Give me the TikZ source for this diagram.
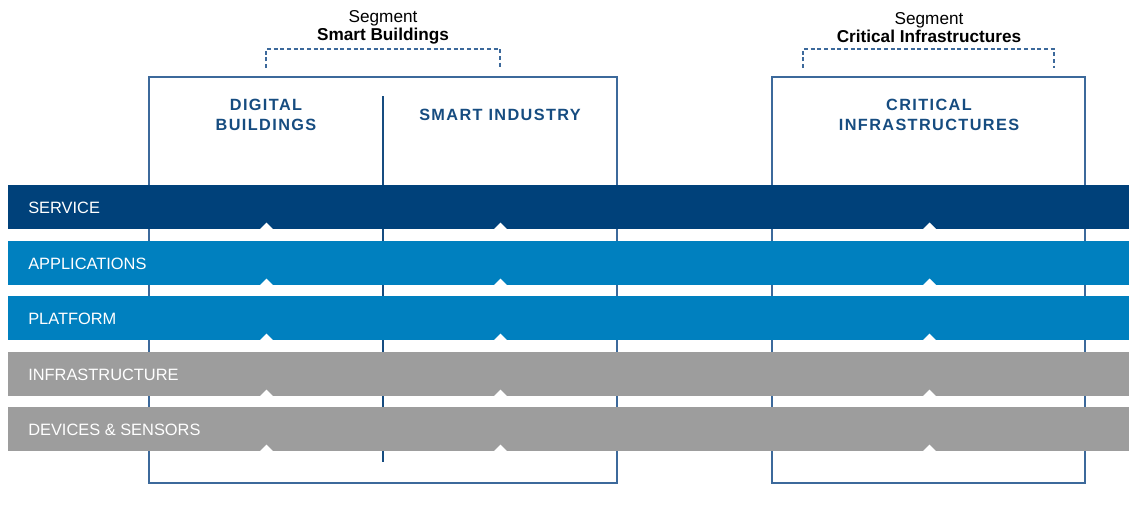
\documentclass[tikz,border=0pt]{standalone}
\usepackage{fontspec}
\setmainfont{Liberation Sans}
\newfontfamily\headfont[LetterSpace=8.5]{Liberation Sans}

\definecolor{darkbar}{RGB}{0,65,122}
\definecolor{bluebar}{RGB}{0,128,191}
\definecolor{greybar}{RGB}{157,157,157}
\definecolor{boxline}{RGB}{60,105,155}
\definecolor{headblue}{RGB}{22,76,128}

\tikzset{
  layer/.style={anchor=west,inner sep=0pt,text=white,font=\fontsize{12.3}{14}\selectfont},
  segtitle/.style={inner sep=0.75pt,align=center,font=\fontsize{12.9}{13.5}\selectfont},
  headtitle/.style={inner sep=0.75pt,align=center,text=headblue,font=\headfont\bfseries\fontsize{12.2}{14.5}\selectfont},
}

\begin{document}
\begin{tikzpicture}[x=0.75pt,y=0.75pt,yscale=-1,xscale=1]
\useasboundingbox (0,0) rectangle (1129,519);

%Shape: Rectangle [id:box smart buildings]
\draw [color=boxline,line width=1pt] (149,77) rectangle (617,483) ;
%Straight Lines [id:divider]
\draw [color=headblue,line width=1pt] (383,96) -- (383,462) ;
%Shape: Rectangle [id:box critical]
\draw [color=boxline,line width=1pt] (772,77) rectangle (1085,483) ;

%Dashed bracket [id:bracket smart buildings]
\draw [color=boxline,dash pattern=on 3pt off 2pt,line width=0.8pt] (266,68) -- (266,49) -- (500,49) -- (500,68) ;
%Dashed bracket [id:bracket critical]
\draw [color=boxline,dash pattern=on 3pt off 2pt,line width=0.8pt] (803,68) -- (803,49) -- (1054,49) -- (1054,68) ;

%Shape: Rectangle [id:service]
\fill [darkbar] (8,185) rectangle (1129,229) ;
%Shape: Rectangle [id:applications]
\fill [bluebar] (8,241) rectangle (1129,285) ;
%Shape: Rectangle [id:platform]
\fill [bluebar] (8,296) rectangle (1129,340) ;
%Shape: Rectangle [id:infrastructure]
\fill [greybar] (8,352) rectangle (1129,396) ;
%Shape: Rectangle [id:devices]
\fill [greybar] (8,407) rectangle (1129,451) ;

%Notches
\fill [white] (260,229) -- (266.5,222.5) -- (273,229) -- cycle (494,229) -- (500.5,222.5) -- (507,229) -- cycle (923,229) -- (929.5,222.5) -- (936,229) -- cycle ;
\fill [white] (260,285) -- (266.5,278.5) -- (273,285) -- cycle (494,285) -- (500.5,278.5) -- (507,285) -- cycle (923,285) -- (929.5,278.5) -- (936,285) -- cycle ;
\fill [white] (260,340) -- (266.5,333.5) -- (273,340) -- cycle (494,340) -- (500.5,333.5) -- (507,340) -- cycle (923,340) -- (929.5,333.5) -- (936,340) -- cycle ;
\fill [white] (260,396) -- (266.5,389.5) -- (273,396) -- cycle (494,396) -- (500.5,389.5) -- (507,396) -- cycle (923,396) -- (929.5,389.5) -- (936,396) -- cycle ;
\fill [white] (260,451) -- (266.5,444.5) -- (273,451) -- cycle (494,451) -- (500.5,444.5) -- (507,451) -- cycle (923,451) -- (929.5,444.5) -- (936,451) -- cycle ;

% Text Node
\node [layer,anchor=base west] (service) at (28,213.3) {SERVICE};
% Text Node
\node [layer,anchor=base west] (applications) at (28,269.3) {APPLICATIONS};
% Text Node
\node [layer,anchor=base west] (platform) at (28,324.3) {PLATFORM};
% Text Node
\node [layer,anchor=base west] (infrastructure) at (28,380) {INFRASTRUCTURE};
% Text Node
\node [layer,anchor=base west] (devices) at (28,435.3) {DEVICES \& SENSORS};

% Text Node
\node [segtitle] (seg smart) at (383,27.5) {Segment\\\textbf{Smart Buildings}};
% Text Node
\node [segtitle] (seg critical) at (929,27.5) {Segment\\\textbf{Critical Infrastructures}};

% Text Node
\node [headtitle] (digital) at (266,115) {DIGITAL\\BUILDINGS};
% Text Node
\node [headtitle] (industry) at (500,115) {SMART INDUSTRY};
% Text Node
\node [headtitle] (critical) at (929,115) {CRITICAL\\INFRASTRUCTURES};

\end{tikzpicture}
\end{document}
